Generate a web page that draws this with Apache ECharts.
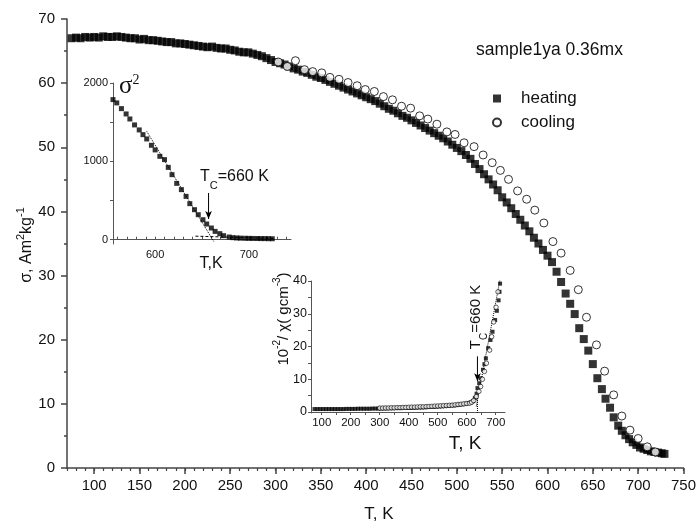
<!DOCTYPE html>
<html><head><meta charset="utf-8">
<script src="https://cdn.jsdelivr.net/npm/echarts@6/dist/echarts.min.js"></script>
<style>html,body{margin:0;padding:0;background:#fff}#c{width:699px;height:529px}</style>
</head><body><div id="c"></div>
<script>
// ---------- main chart: sigma vs T ----------
const heatT = [75,80,85,90,95,100,105,110,115,120,125,130,135,140,145,150,155,160,165,170,175,180,185,190,195,200,205,210,215,220,225,230,235,240,245,250,255,260,265,270,275,280,285,290,295,300,305,310,315,320,325,330,335,340,345,350,355,360,365,370,375,380,385,390,395,400,405,410,415,420,425,430,435,440,445,450,455,460,465,470,475,480,485,490,495,500,505,510,515,520,525,530,535,540,545,550,555,560,565,570,575,580,585,590,595,600,605,610,615,620,625,630,635,640,645,650,655,660,664,669,673,678,682,686,690,694,698,702,706,710,714,718,722,726,729];
const heatV = [67.0,67.1,67.0,67.2,67.1,67.2,67.1,67.3,67.2,67.2,67.3,67.2,67.1,67.0,67.0,66.8,66.9,66.7,66.7,66.6,66.5,66.4,66.4,66.2,66.2,66.1,66.0,65.9,65.8,65.7,65.6,65.7,65.5,65.4,65.4,65.2,65.1,64.9,64.8,64.8,64.6,64.4,64.2,63.9,63.6,63.3,63.1,62.9,62.6,62.3,62.1,61.8,61.6,61.3,61.0,60.8,60.5,60.2,59.9,59.6,59.3,59.0,58.7,58.4,58.1,57.8,57.5,57.2,56.8,56.4,56.0,55.7,55.3,54.9,54.6,54.2,53.8,53.4,53.0,52.6,52.2,51.8,51.4,50.9,50.4,49.9,49.4,48.8,48.2,47.4,46.6,45.8,45.0,44.2,43.3,42.2,41.4,40.5,39.6,38.7,37.8,36.9,35.9,35.0,34.0,33.1,32.1,30.6,29.0,27.2,25.6,24.0,21.8,20.1,18.3,16.2,14.0,12.3,10.8,9.4,7.9,6.6,5.8,5.1,4.5,4.0,3.6,3.2,3.0,2.8,2.6,2.5,2.4,2.3,2.2];
const coolT = [303,313,322,332,341,351,360,370,380,390,399,409,419,429,439,449,459,468,478,489,498,508,519,529,539,548,557,567,577,586,596,606,615,625,634,643,654,663,673,682,691,700,710,719];
const coolV = [63.3,62.6,63.5,62.1,61.8,61.6,60.9,60.6,60.1,59.6,59.0,58.7,57.9,57.4,56.4,56.1,54.9,54.4,53.6,52.4,52.0,50.7,50.1,48.8,47.6,46.4,45.0,43.2,41.9,40.2,38.2,35.3,33.5,30.8,27.8,23.5,19.2,15.1,11.4,8.1,5.9,4.6,3.3,2.5];
const mainXTicks = [100,150,200,250,300,350,400,450,500,550,600,650,700,750];

// ---------- inset 1: sigma^2 vs T ----------
const sqT = [555,559,564,569,573,578,583,587,591,596,600,605,610,614,618,623,628,633,637,642,646,651,655,660,664,669,673,679,683,687,691,696,700,704,709,713,717,721,725];
const sqV = [1788,1746,1673,1605,1541,1465,1401,1341,1286,1205,1146,1064,1022,923,830,719,639,553,460,383,319,255,200,149,106,77,51,34,26,22,20,18,17,16,15,14,14,13,12];
const fitA = [[591,1383],[662.5,-22]];
const fitB = [[643,45],[728,15]];
const arrowA = [[657,596],[657,264]];
const in1XLabels = [600,700];
const in1XTicks = [560,570,580,590,600,610,620,630,640,650,660,670,680,690,700,710,720,730,740];
const in1YLabels = [0,1000,2000];
const in1YTicks = [0,500,1000,1500,2000];

// ---------- inset 2: 1/chi vs T ----------
const chiHT = [75,85,95,105,115,125,135,145,155,165,175,185,195,205,215,225,235,245,255,265,275,285,295,305,315,325,335,345,355,365,375,385,395,405,415,425,435,445,455,465,475,485,495,505,515,525,535,545,555,565,575,585,595,605,614,622,628,634,637,643,648,656,661,666,674,682,689,698,704,710,713,715];
const chiHV = [0.9,0.9,0.9,0.9,0.9,0.9,0.9,0.9,0.9,0.9,0.9,0.95,0.95,0.95,0.95,1.0,1.0,1.0,1.0,1.0,1.05,1.05,1.05,1.1,1.1,1.1,1.15,1.15,1.2,1.2,1.2,1.25,1.25,1.3,1.3,1.35,1.4,1.4,1.45,1.5,1.55,1.6,1.65,1.7,1.75,1.8,1.9,1.95,2.0,2.1,2.2,2.35,2.5,2.7,2.9,3.3,4.3,5.6,7.3,8.8,10.3,12.9,14.6,16.4,19.5,22.0,24.5,28.1,30.9,34.1,36.7,39.2];
const chiCT = [300,310,320,330,340,350,360,370,380,390,400,410,420,430,440,450,460,470,480,490,500,510,520,530,540,550,560,570,580,590,600,610,617,624,633,642,648,654,661,668,679,686,693,701,708];
const chiCV = [1.2,1.2,1.25,1.25,1.3,1.3,1.35,1.35,1.4,1.4,1.45,1.5,1.5,1.55,1.6,1.6,1.65,1.7,1.75,1.8,1.85,1.9,1.95,2.0,2.05,2.1,2.2,2.3,2.4,2.5,2.6,2.7,3.0,3.5,4.7,6.3,7.8,10.0,12.4,14.9,18.9,23.0,27.5,32.0,36.7];
const fitC = [[633,1.7],[716,41]];
const vlineC = [[637,-0.3],[637,5]];
const arrowC = [[637,17],[637,9.4]];
const in2XLabels = [100,200,300,400,500,600,700];
const in2XTicks = [100,150,200,250,300,350,400,450,500,550,600,650,700];
const in2YLabels = [0,10,20,30,40];
const in2YTicks = [0,5,10,15,20,25,30,35,40];

const zip = (a, b) => a.map((t, i) => [t, b[i]]);
const FONT = '"Liberation Sans", Arial, sans-serif';
const TXT = '#111';
const AX = '#444';
const plain = v => String(v);

const chart = echarts.init(document.getElementById('c'), null, {renderer: 'canvas'});

function dotted(data, xi, yi, type) {
  return {type: 'line', xAxisIndex: xi, yAxisIndex: yi, data: data, symbol: 'none',
    silent: true, z: 1, lineStyle: {color: '#000', width: 1, type: type || 'dotted'}};
}
function arrow(data, xi, yi) {
  return {type: 'line', xAxisIndex: xi, yAxisIndex: yi, silent: true, z: 4,
    data: [{value: data[0], symbol: 'none'}, {value: data[1], symbol: 'arrow', symbolSize: [5, 8], symbolRotate: 180}],
    showSymbol: true, itemStyle: {color: '#000'}, lineStyle: {color: '#000', width: 1}};
}

const option = {
  animation: false,
  backgroundColor: '#fff',
  textStyle: {fontFamily: FONT, color: TXT},
  grid: [
    {left: 67, right: 11, top: 19, bottom: 61},
    {left: 113, right: 408, top: 83, bottom: 285},
    {left: 311, right: 194, top: 281, bottom: 116}
  ],
  legend: {
    data: ['heating', 'cooling'], orient: 'vertical', left: 487, top: 85,
    itemWidth: 8, itemHeight: 8, itemGap: 7,
    textStyle: {fontFamily: FONT, fontSize: 17, color: TXT, lineHeight: 17, padding: [0, 0, 0, 15]}
  },
  xAxis: [
    {gridIndex: 0, type: 'value', position: 'bottom', min: 70, max: 750, splitLine: {show: false},
      axisLine: {lineStyle: {color: AX, width: 1.5}},
      axisTick: {customValues: mainXTicks, length: 6, lineStyle: {color: AX, width: 1.5}},
      axisLabel: {customValues: mainXTicks, fontSize: 15, color: TXT, margin: 10, fontFamily: FONT, formatter: plain}},
    {gridIndex: 0, type: 'value', position: 'bottom', min: 70, max: 750, interval: 10, splitLine: {show: false},
      axisLine: {show: false}, axisLabel: {show: false},
      axisTick: {length: 3, lineStyle: {color: AX, width: 1.2}}},
    {gridIndex: 1, type: 'value', position: 'bottom', min: 555, max: 745, splitLine: {show: false},
      axisLine: {lineStyle: {color: '#555', width: 1}},
      axisTick: {customValues: in1XTicks, inside: true, length: 3, lineStyle: {color: '#555'}},
      axisLabel: {customValues: in1XLabels, fontSize: 11, color: TXT, margin: 5, fontFamily: FONT, formatter: plain}},
    {gridIndex: 2, type: 'value', position: 'bottom', min: 63, max: 732, splitLine: {show: false},
      axisLine: {lineStyle: {color: '#555', width: 1}},
      axisTick: {customValues: in2XTicks, length: 3, lineStyle: {color: '#555'}},
      axisLabel: {customValues: in2XLabels, fontSize: 11.5, color: TXT, margin: 4, fontFamily: FONT, formatter: plain}}
  ],
  yAxis: [
    {gridIndex: 0, type: 'value', position: 'left', min: 0, max: 70, interval: 10, splitLine: {show: false},
      axisLine: {show: true, lineStyle: {color: AX, width: 1.5}},
      axisTick: {show: true, length: 6, lineStyle: {color: AX, width: 1.5}},
      minorTick: {show: true, splitNumber: 2, length: 3, lineStyle: {color: AX, width: 1.5}},
      axisLabel: {fontSize: 15, color: TXT, margin: 12, fontFamily: FONT, formatter: plain}},
    {gridIndex: 1, type: 'value', position: 'left', min: -55, max: 2000, splitLine: {show: false},
      axisLine: {show: true, lineStyle: {color: '#555', width: 1}},
      axisTick: {show: true, customValues: in1YTicks, length: 3, lineStyle: {color: '#555'}},
      axisLabel: {customValues: in1YLabels, fontSize: 11, color: TXT, margin: 5, fontFamily: FONT, formatter: plain}},
    {gridIndex: 2, type: 'value', position: 'left', min: -0.3, max: 40, splitLine: {show: false},
      axisLine: {show: true, lineStyle: {color: '#555', width: 1}},
      axisTick: {show: true, customValues: in2YTicks, length: 3, lineStyle: {color: '#555'}},
      axisLabel: {customValues: in2YLabels, fontSize: 12.5, color: TXT, margin: 4, fontFamily: FONT, formatter: plain}}
  ],
  series: [
    {name: 'heating', type: 'scatter', xAxisIndex: 0, yAxisIndex: 0, data: zip(heatT, heatV),
      symbol: 'rect', symbolSize: 8, itemStyle: {color: '#000'}, z: 2},
    {name: 'cooling', type: 'scatter', xAxisIndex: 0, yAxisIndex: 0, data: zip(coolT, coolV),
      symbol: 'circle', symbolSize: 8, itemStyle: {color: '#fff', borderColor: '#000', borderWidth: 1}, z: 3},
    {name: 'sigma2', type: 'scatter', xAxisIndex: 2, yAxisIndex: 1, data: zip(sqT, sqV),
      symbol: 'rect', symbolSize: 5, itemStyle: {color: '#000'}, z: 3},
    dotted(fitA, 2, 1, 'dotted'),
    dotted(fitB, 2, 1, [3, 2]),
    arrow(arrowA, 2, 1),
    {name: 'chiH', type: 'scatter', xAxisIndex: 3, yAxisIndex: 2, data: zip(chiHT, chiHV),
      symbol: 'rect', symbolSize: 4, itemStyle: {color: '#000'}, z: 2},
    {name: 'chiC', type: 'scatter', xAxisIndex: 3, yAxisIndex: 2, data: zip(chiCT, chiCV),
      symbol: 'circle', symbolSize: 4.5, itemStyle: {color: '#fff', borderColor: '#000', borderWidth: 0.8}, z: 3},
    dotted(fitC, 3, 2, 'dotted'),
    dotted(vlineC, 3, 2, 'dotted'),
    arrow(arrowC, 3, 2)
  ],
  graphic: [
    {type: 'text', x: 25, y: 245, rotation: Math.PI / 2, silent: true,
      style: {text: '{a|σ, Am}{s|2}{a|kg}{s|-1}', align: 'center', verticalAlign: 'middle',
        rich: {a: {fontSize: 16, fontFamily: FONT, fill: TXT, verticalAlign: 'bottom', lineHeight: 20},
               s: {fontSize: 11, fontFamily: FONT, fill: TXT, verticalAlign: 'top', lineHeight: 20}}}},
    {type: 'text', x: 379, y: 514, silent: true,
      style: {text: 'T, K', align: 'center', verticalAlign: 'middle', fontSize: 17, fontFamily: FONT, fill: TXT}},
    {type: 'text', x: 476, y: 50, silent: true,
      style: {text: 'sample1ya 0.36mx', align: 'left', verticalAlign: 'middle', fontSize: 17.5, fontFamily: FONT, fill: TXT}},
    {type: 'text', x: 119, y: 86, silent: true,
      style: {text: '{a|σ}{s|2}', align: 'left', verticalAlign: 'middle',
        rich: {a: {fontSize: 25, fontFamily: '"Liberation Serif", serif', fill: TXT, verticalAlign: 'bottom', lineHeight: 26},
               s: {fontSize: 14, fontFamily: '"Liberation Serif", serif', fill: TXT, verticalAlign: 'top', lineHeight: 26}}}},
    {type: 'text', x: 200, y: 180, silent: true,
      style: {text: '{a|T}{b|C}{a|=660 K}', align: 'left', verticalAlign: 'middle',
        rich: {a: {fontSize: 16, fontFamily: FONT, fill: TXT, verticalAlign: 'top', lineHeight: 22},
               b: {fontSize: 11, fontFamily: FONT, fill: TXT, verticalAlign: 'bottom', lineHeight: 22}}}},
    {type: 'text', x: 211, y: 264, silent: true,
      style: {text: 'T,K', align: 'center', verticalAlign: 'middle', fontSize: 16, fontFamily: FONT, fill: TXT}},
    {type: 'text', x: 282, y: 319, rotation: Math.PI / 2, silent: true,
      style: {text: '{a|10}{s|-2}{a|/ χ( gcm}{s|-3}{a|)}', align: 'center', verticalAlign: 'middle',
        rich: {a: {fontSize: 15, fontFamily: FONT, fill: TXT, verticalAlign: 'bottom', lineHeight: 19},
               s: {fontSize: 10, fontFamily: FONT, fill: TXT, verticalAlign: 'top', lineHeight: 19}}}},
    {type: 'text', x: 465, y: 444, silent: true,
      style: {text: 'T, K', align: 'center', verticalAlign: 'middle', fontSize: 19, fontFamily: FONT, fill: TXT}},
    {type: 'text', x: 479, y: 317, rotation: Math.PI / 2, silent: true,
      style: {text: '{a|T}{b|C}{a|=660 K}', align: 'center', verticalAlign: 'middle',
        rich: {a: {fontSize: 15, fontFamily: FONT, fill: TXT, verticalAlign: 'top', lineHeight: 21},
               b: {fontSize: 10, fontFamily: FONT, fill: TXT, verticalAlign: 'bottom', lineHeight: 21}}}}
  ]
};
chart.setOption(option);
</script></body></html>
